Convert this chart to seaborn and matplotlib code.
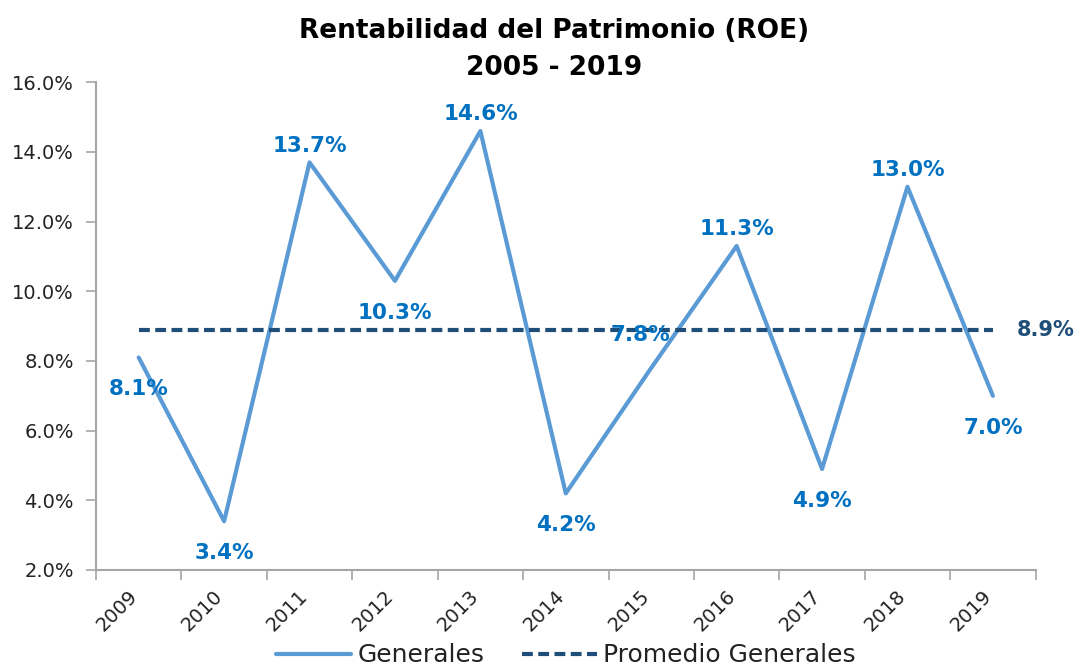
import numpy as np
import pandas as pd
import matplotlib
matplotlib.use("Agg")
import matplotlib.pyplot as plt
import matplotlib.transforms as mtransforms
from matplotlib.ticker import FixedLocator, PercentFormatter
import seaborn as sns

sns.set_theme(style="white")
plt.rcParams['font.family'] = ['DejaVu Sans']

# data
years = ["2009", "2010", "2011", "2012", "2013", "2014", "2015", "2016", "2017", "2018", "2019"]
roe = [8.1, 3.4, 13.7, 10.3, 14.6, 4.2, 7.8, 11.3, 4.9, 13.0, 7.0]
promedio = 8.9
# where each label goes: above or below the point
label_side = ["below", "below", "above", "below", "above", "below", "above", "above", "below", "above", "below"]

line_col = "#5B9BD5"
label_col = "#0070C0"
avg_col = "#1F4E79"
axis_col = "#A6A6A6"

df = pd.DataFrame({"pos": np.arange(len(years)), "Año": years, "ROE": roe})
df["Promedio"] = promedio

fig = plt.figure(figsize=(10.81, 6.69), dpi=100)
ax = fig.add_axes([0.0888, 0.148, 0.8692, 0.729])

sns.lineplot(data=df, x="pos", y="ROE", color=line_col, linewidth=3, ax=ax, label="Generales")
sns.lineplot(data=df, x="pos", y="Promedio", color=avg_col, linewidth=3, linestyle=(0, (2.6, 1.3)),
             ax=ax, label="Promedio Generales")

for x, yr, v, side in zip(df["pos"], years, roe, label_side):
    off = (0, 12) if side == "above" else (0, -23)
    if yr == "2015":
        # this one sits higher and a bit to the left, over the average line
        off = (-8, 24)
    ax.annotate(f"{v:.1f}%", (x, v), xytext=off, textcoords="offset points",
                ha="center", va="center", fontsize=15.5, fontweight="bold", color=label_col)
ax.annotate(f"{promedio:.1f}%", (df["pos"].iloc[-1], promedio), xytext=(38, 0),
            textcoords="offset points", ha="center", va="center",
            fontsize=15, fontweight="bold", color=avg_col, annotation_clip=False)

ax.set_xlim(-0.5, len(years) - 0.5)
ax.set_ylim(2, 16)
ax.set_yticks(np.arange(2, 16.1, 2))
ax.yaxis.set_major_formatter(PercentFormatter(decimals=1))
ax.set_xticks(df["pos"])
ax.set_xticklabels(years, rotation=45, ha="right", rotation_mode="anchor")
ax.xaxis.set_minor_locator(FixedLocator(np.arange(-0.5, len(years), 1)))
ax.tick_params(axis="x", which="major", length=0, pad=12, labelsize=14, colors="#222222")
ax.tick_params(axis="x", which="minor", length=7, width=1.2, color=axis_col, direction="out", bottom=True)
ax.tick_params(axis="y", length=7, width=1.2, color=axis_col, direction="out", left=True,
               labelsize=14, labelcolor="#222222", pad=9)
ax.set_xlabel("")
ax.set_ylabel("")
sns.despine(ax=ax)
for s in ["left", "bottom"]:
    ax.spines[s].set_color(axis_col)
    ax.spines[s].set_linewidth(1.5)
ax.grid(False)

# nudge the rotated year labels left so they end under the point
shift = mtransforms.ScaledTranslation(-8 / 72, 0, fig.dpi_scale_trans)
for lab in ax.get_xticklabels():
    lab.set_transform(lab.get_transform() + shift)

fig.text(0.513, 0.973, "Rentabilidad del Patrimonio (ROE)\n2005 - 2019", ha="center", va="top",
         fontsize=19, fontweight="bold", color="black", linespacing=1.55)

ax.legend(loc="center", bbox_to_anchor=(0.5, -0.175), ncol=2, frameon=False,
          fontsize=18, handlelength=3, handletextpad=0.25, columnspacing=1.5, labelcolor="#222222")

fig.savefig("out.png", dpi=100)
